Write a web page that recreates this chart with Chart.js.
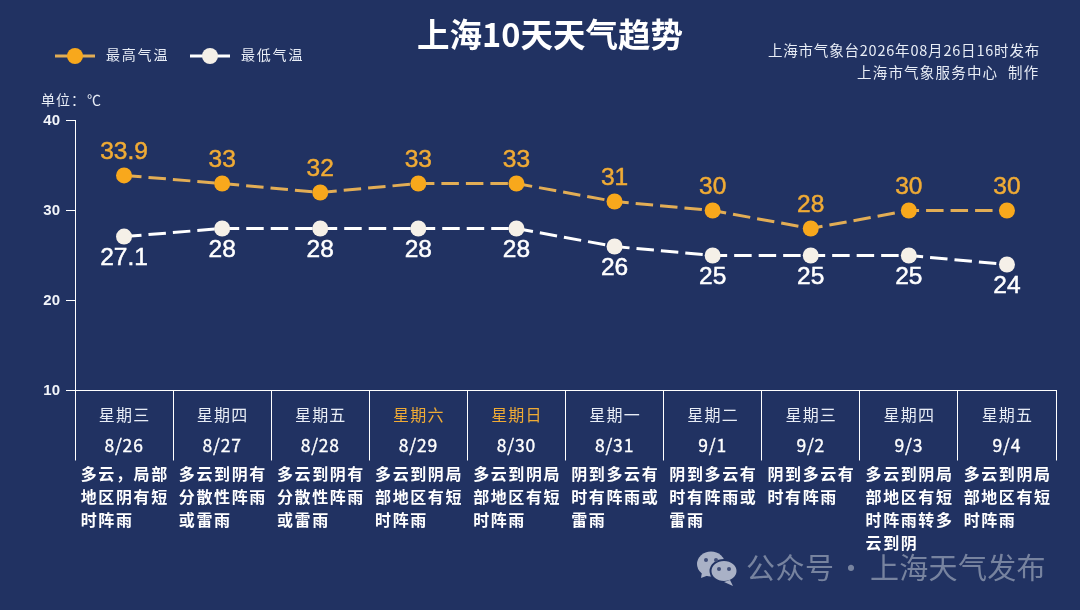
<!DOCTYPE html>
<html>
<head>
<meta charset="utf-8">
<title>上海10天天气趋势</title>
<script src="https://cdn.jsdelivr.net/npm/chart.js@4"></script>
<style>
  html, body { margin: 0; padding: 0; background: #213262; }
  canvas { display: block; }
</style>
</head>
<body>
<canvas id="weatherChart" width="1080" height="610"></canvas>
<script>
// 数据
const dates = ['8/26', '8/27', '8/28', '8/29', '8/30', '8/31', '9/1', '9/2', '9/3', '9/4'];
const weekdays = ['星期三', '星期四', '星期五', '星期六', '星期日', '星期一', '星期二', '星期三', '星期四', '星期五'];
const highTemps = [33.9, 33, 32, 33, 33, 31, 30, 28, 30, 30];
const lowTemps = [27.1, 28, 28, 28, 28, 26, 25, 25, 25, 24];
const yTicks = [10, 20, 30, 40];
const forecasts = [
  ['多云\uFF0C局部', '地区阴有短', '时阵雨'],
  ['多云到阴有', '分散性阵雨', '或雷雨'],
  ['多云到阴有', '分散性阵雨', '或雷雨'],
  ['多云到阴局', '部地区有短', '时阵雨'],
  ['多云到阴局', '部地区有短', '时阵雨'],
  ['阴到多云有', '时有阵雨或', '雷雨'],
  ['阴到多云有', '时有阵雨或', '雷雨'],
  ['阴到多云有', '时有阵雨'],
  ['多云到阴局', '部地区有短', '时阵雨转多', '云到阴'],
  ['多云到阴局', '部地区有短', '时阵雨']
];

// 颜色
const orange = '#f8a81c';
const orangeLine = '#e2ad55';
const orangeText = '#f0ab35';
const white = '#f5f0e8';
const textColor = '#e8edf6';
const markColor = '#77839f';
const cjk = '"Noto Sans CJK SC", sans-serif';
const latin = '"Liberation Sans", Arial, sans-serif';

function text(ctx, str, x, y, font, color, align, spacing, stroke) {
  ctx.font = font;
  ctx.fillStyle = color;
  ctx.textAlign = align || 'left';
  ctx.textBaseline = 'middle';
  ctx.letterSpacing = spacing || '0px';
  if (stroke) {
    // 原图文字略粗
    ctx.strokeStyle = color;
    ctx.lineWidth = stroke;
    ctx.strokeText(str, x, y);
  }
  ctx.fillText(str, x, y);
  ctx.letterSpacing = '0px';
}

function legendItem(ctx, x, y, lineColor, dotColor, label) {
  ctx.strokeStyle = lineColor;
  ctx.lineWidth = 3;
  ctx.beginPath();
  ctx.moveTo(x, y);
  ctx.lineTo(x + 40, y);
  ctx.stroke();
  ctx.fillStyle = dotColor;
  ctx.beginPath();
  ctx.arc(x + 20, y, 8, 0, Math.PI * 2);
  ctx.fill();
  text(ctx, label, x + 51, y - 1, '14px ' + cjk, textColor, 'left', '1.8px');
}

// 微信图标
function wechatIcon(ctx) {
  ctx.fillStyle = '#a9b1c6';
  ctx.beginPath();
  ctx.ellipse(711, 564, 14, 12.5, 0, 0, Math.PI * 2);
  ctx.fill();
  ctx.beginPath();
  ctx.moveTo(702, 572);
  ctx.lineTo(701, 578);
  ctx.lineTo(709, 575);
  ctx.fill();
  ctx.strokeStyle = '#213262';
  ctx.lineWidth = 2;
  ctx.beginPath();
  ctx.ellipse(724, 571, 13.5, 11, 0, 0, Math.PI * 2);
  ctx.fill();
  ctx.stroke();
  ctx.beginPath();
  ctx.moveTo(730, 580);
  ctx.lineTo(733, 586);
  ctx.lineTo(724, 582);
  ctx.fill();
  ctx.fillStyle = '#3f4d78';
  [[706, 560], [716, 560], [719, 569], [729, 569]].forEach(function (p) {
    ctx.beginPath();
    ctx.arc(p[0], p[1], 2, 0, Math.PI * 2);
    ctx.fill();
  });
}

const textPlugin = {
  id: 'weatherText',
  afterDraw(chart) {
    const ctx = chart.ctx;
    const xScale = chart.scales.x;
    ctx.save();

    text(ctx, '上海10天天气趋势', 550, 35, 'bold 32.5px ' + cjk, '#ffffff', 'center');
    text(ctx, '上海市气象台2026年08月26日16时发布', 1040, 50, '14.5px ' + cjk, textColor, 'right', '0.8px');
    text(ctx, '上海市气象服务中心', 857, 72, '14.5px ' + cjk, textColor, 'left', '1.2px');
    text(ctx, '制作', 1008, 72, '14.5px ' + cjk, textColor, 'left', '1.2px');
    text(ctx, '单位\uFF1A', 41, 100, '14px ' + cjk, textColor, 'left', '1px');
    text(ctx, '℃', 87, 100, '14px ' + cjk, textColor, 'left');
    legendItem(ctx, 55, 56, orangeLine, orange, chart.data.datasets[0].label);
    legendItem(ctx, 190, 56, '#ffffff', white, chart.data.datasets[1].label);

    // 数值标注
    chart.data.datasets.forEach(function (ds, d) {
      const meta = chart.getDatasetMeta(d);
      meta.data.forEach(function (pt, i) {
        const y = d === 0 ? pt.y - 23 : pt.y + 22;
        text(ctx, String(ds.data[i]), pt.x, y, '24.5px ' + latin, d === 0 ? orangeText : '#ffffff', 'center', '0px', 0.5);
      });
    });

    // 表格文字
    weekdays.forEach(function (day, i) {
      const x = xScale.getPixelForValue(i);
      const weekend = day === '星期六' || day === '星期日';
      text(ctx, day, x + 0.5, 415, '16px ' + cjk, weekend ? orangeText : textColor, 'center', '1.2px');
      text(ctx, dates[i], x, 445, '17.5px ' + cjk, '#ffffff', 'center', '0.8px', 0.35);
      forecasts[i].forEach(function (line, n) {
        text(ctx, line, x - 43.3, 474 + n * 23, 'bold 16px ' + cjk, '#ffffff', 'left', '1.6px');
      });
    });

    // 水印
    wechatIcon(ctx);
    text(ctx, '公众号', 746, 568, '29px ' + cjk, markColor, 'left', '0.5px');
    text(ctx, '·', 851, 568, '29px ' + cjk, markColor, 'center');
    text(ctx, '上海天气发布', 870, 568, '29px ' + cjk, markColor, 'left', '0.3px');

    ctx.restore();
  }
};

new Chart(document.getElementById('weatherChart'), {
  type: 'line',
  plugins: [textPlugin],
  data: {
    labels: dates,
    datasets: [
      {
        label: '最高气温',
        data: highTemps,
        borderColor: orangeLine,
        borderWidth: 3,
        borderDash: [17.5, 7],
        pointRadius: 8,
        pointBackgroundColor: orange,
        pointBorderWidth: 0,
        tension: 0
      },
      {
        label: '最低气温',
        data: lowTemps,
        borderColor: '#ffffff',
        borderWidth: 3,
        borderDash: [17.5, 7],
        pointRadius: 8,
        pointBackgroundColor: white,
        pointBorderWidth: 0,
        tension: 0
      }
    ]
  },
  options: {
    responsive: false,
    animation: false,
    devicePixelRatio: 1,
    layout: { padding: { top: 120.5, right: 24, left: 0, bottom: 0 } },
    plugins: {
      legend: { display: false },
      title: { display: false },
      tooltip: { enabled: false }
    },
    scales: {
      x: {
        offset: true,
        afterFit(scale) { scale.height = 219.5; },
        border: { color: '#ffffff', width: 1 },
        grid: {
          color: '#ffffff',
          lineWidth: 1,
          drawOnChartArea: false,
          offset: true,
          tickLength: 70
        },
        ticks: { display: false, autoSkip: false }
      },
      y: {
        min: 10,
        max: 40,
        afterFit(scale) { scale.width = 75; },
        afterBuildTicks(scale) { scale.ticks = yTicks.map(function (v) { return { value: v }; }); },
        border: { color: '#ffffff', width: 1 },
        grid: {
          color: '#ffffff',
          lineWidth: 1,
          drawOnChartArea: false,
          tickLength: 9
        },
        ticks: {
          color: '#f2f5fa',
          padding: 6,
          font: { family: latin, size: 15, weight: 'bold' }
        }
      }
    }
  }
});
</script>
</body>
</html>
